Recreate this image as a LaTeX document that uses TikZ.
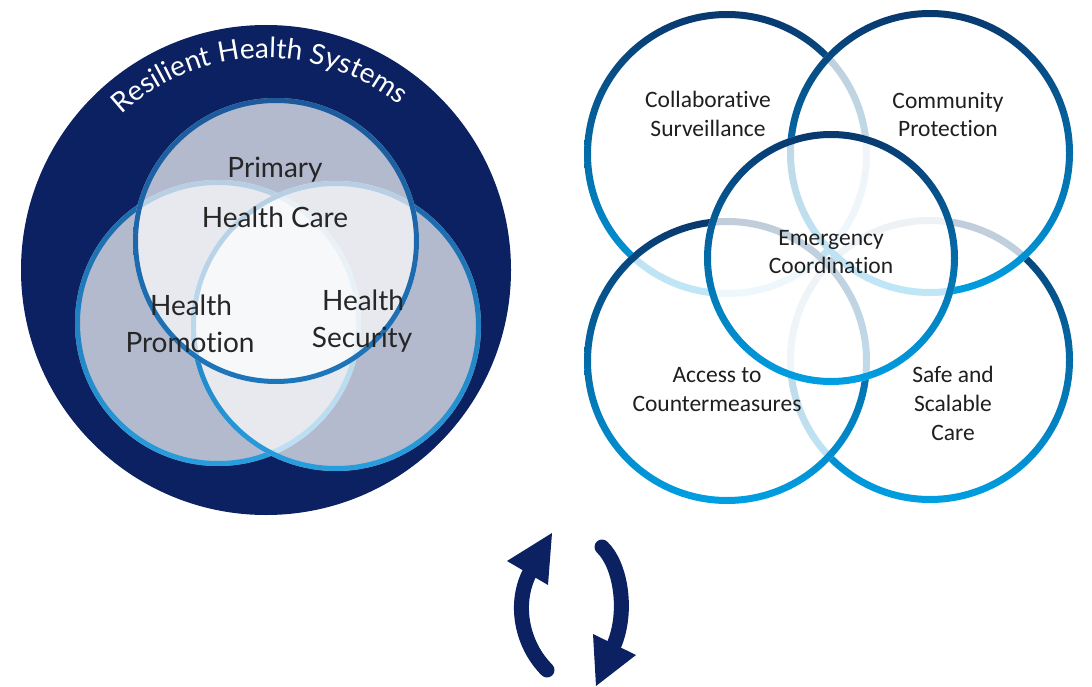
\documentclass[tikz,border=0pt]{standalone}
\usepackage{fontspec}
\newfontfamily\vennfont[Ligatures=NoCommon]{Lato}
\newfontfamily\calibfont[Ligatures=NoCommon]{Carlito}
\usetikzlibrary{decorations.text,calc}
\definecolor{navy}{RGB}{11,33,97}
\definecolor{txtgray}{RGB}{38,38,38}
\definecolor{rdark}{RGB}{8,56,110}
\definecolor{rmid}{RGB}{0,112,176}
\definecolor{rlight}{RGB}{0,160,227}
\definecolor{vtopA}{RGB}{28,90,156}
\definecolor{vtopB}{RGB}{30,118,186}
\definecolor{vsideA}{RGB}{28,100,166}
\definecolor{vsideB}{RGB}{40,158,222}
\newcommand{\mycirc}[6]{%
  \fill[white, fill opacity=#6] (#1) circle (#2pt);
  \shade[top color=#3, bottom color=#4, even odd rule] (#1) circle (#2pt) (#1) circle (#2pt-#5pt);}
\newcommand{\myring}[7]{%
  \fill[white, fill opacity=#7] (#1) circle (#2pt);
  \shade[top color=#3, middle color=#4, bottom color=#5, even odd rule] (#1) circle (#2pt) (#1) circle (#2pt-#6pt);}
\tikzset{
  lt/.style={font=\vennfont\fontsize{28}{28}\selectfont, text=txtgray, inner sep=0pt, anchor=base},
  rt/.style={font=\calibfont\fontsize{23.5}{29}\selectfont, text=black!88, inner sep=0pt, anchor=base},
  arrowshaft/.style={draw=navy, line width=15pt, line cap=round},
}
\begin{document}
\begin{tikzpicture}[x=1pt,y=-1pt]
\useasboundingbox (0,0) rectangle (1092,687);
% ---------- left: resilient health systems ----------
\coordinate (O) at (266,270);
\fill[navy] (O) circle (245pt);
\path[decorate, decoration={text along path, text align=center, text color=white,
  text={|\vennfont\fontsize{28}{28}\selectfont|Resilient Health Systems}}]
  ($(O)+(138:212pt)$) arc[start angle=138, end angle=46, radius=212pt];
\coordinate (VL) at (218,323);
\coordinate (VR) at (336,326);
\coordinate (VT) at (276,241);
\mycirc{VL}{143}{vsideA}{vsideB}{5}{0.69}
\mycirc{VR}{145}{vsideA}{vsideB}{5}{0.69}
\mycirc{VT}{143}{vtopA}{vtopB}{5}{0.69}
\node[lt] (pri1) at (275,178) {Primary};
\node[lt] (pri2) at (275,227) {Health Care};
\node[lt] (pro1) at (191,315) {Health};
\node[lt] (pro2) at (190,352) {Promotion};
\node[lt] (sec1) at (363,310) {Health};
\node[lt] (sec2) at (362,347) {Security};
% ---------- right: five circles ----------
\coordinate (CTL) at (727,154);
\coordinate (CTR) at (930,153);
\coordinate (CBL) at (727,361);
\coordinate (CBR) at (930,360);
\coordinate (CC) at (831,258);
\myring{CTL}{143}{rdark}{rmid}{rlight}{7}{0.75}
\myring{CBR}{143}{rdark}{rmid}{rlight}{7}{0.75}
\myring{CTR}{143}{rdark}{rmid}{rlight}{7}{0.75}
\myring{CBL}{143}{rdark}{rmid}{rlight}{7}{0.75}
\myring{CC}{127}{rdark}{rmid}{rlight}{7}{0.75}
\node[rt] (cs1) at (708,108) {Collaborative};
\node[rt] (cs2) at (708,137) {Surveillance};
\node[rt] (cp1) at (948,109) {Community};
\node[rt] (cp2) at (948,137) {Protection};
\node[rt] (ec1) at (831,245) {Emergency};
\node[rt] (ec2) at (831,273) {Coordination};
\node[rt] (ac1) at (717,382) {Access to};
\node[rt] (ac2) at (717,411) {Countermeasures};
\node[rt] (sc1) at (953,382) {Safe and};
\node[rt] (sc2) at (953,411) {Scalable};
\node[rt] (sc3) at (953,440) {Care};
% ---------- cycle arrows ----------
\coordinate (la1) at (547,670);
\coordinate (la2) at (529,574);
\coordinate (lh1) at (507,561);
\coordinate (lht) at (552,533);
\coordinate (lh2) at (548,585);
\draw[arrowshaft] (la1) .. controls (522,645) and (514,605) .. (la2);
\fill[navy] (lh1) -- (lht) -- (lh2) -- cycle;
\coordinate (ra1) at (602,547);
\coordinate (ra2) at (614,645);
\coordinate (rh1) at (593,634);
\coordinate (rht) at (596,686);
\coordinate (rh2) at (636,655);
\draw[arrowshaft] (ra1) .. controls (621,565) and (628,612) .. (ra2);
\fill[navy] (rh1) -- (rht) -- (rh2) -- cycle;
\end{tikzpicture}
\end{document}
